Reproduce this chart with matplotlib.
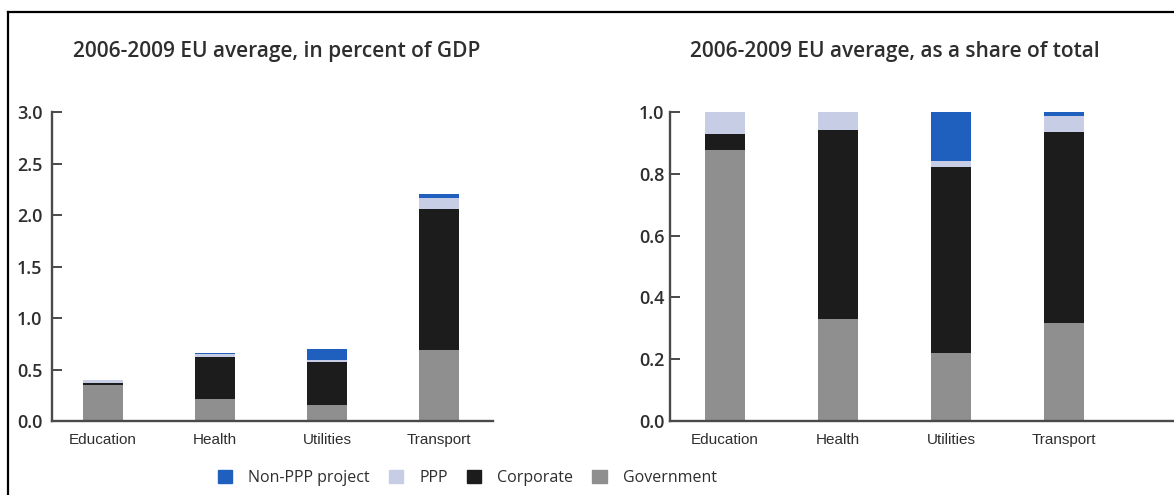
import matplotlib.pyplot as plt
from matplotlib.lines import Line2D
from matplotlib.patches import Patch

categories = ['Education', 'Health', 'Utilities', 'Transport']
series = ['Government', 'Corporate', 'PPP', 'Non-PPP project']
colors = {'Government': '#8f8f8f', 'Corporate': '#1c1c1c',
          'PPP': '#c6cde4', 'Non-PPP project': '#1f5fbd'}

# percent of GDP
gdp_government = [0.35, 0.21, 0.155, 0.69]
gdp_corporate = [0.022, 0.41, 0.42, 1.37]
gdp_ppp = [0.023, 0.035, 0.015, 0.11]
gdp_nonppp = [0.005, 0.005, 0.11, 0.03]

# share of total
share_government = [0.876, 0.329, 0.219, 0.316]
share_corporate = [0.054, 0.614, 0.603, 0.621]
share_ppp = [0.07, 0.057, 0.02, 0.052]
share_nonppp = [0.0, 0.0, 0.158, 0.011]

plt.rcParams['font.family'] = ['Open Sans', 'DejaVu Sans']
txt = '#2e2e2e'
axcol = '#4a4a4a'

fig = plt.figure(figsize=(11.74, 4.95), dpi=100)
ax1 = fig.add_axes([0.0443, 0.1495, 0.3756, 0.624])
ax2 = fig.add_axes([0.5707, 0.1495, 0.4293, 0.624])


def stack(ax, data, width):
    x = range(len(categories))
    bottom = [0] * len(categories)
    for name, vals in zip(series, data):
        ax.bar(x, vals, width, bottom=bottom, color=colors[name], linewidth=0)
        bottom = [b + v for b, v in zip(bottom, vals)]


stack(ax1, [gdp_government, gdp_corporate, gdp_ppp, gdp_nonppp], 0.357)
stack(ax2, [share_government, share_corporate, share_ppp, share_nonppp], 0.354)

ax1.set_xlim(-0.455, 3.482)
ax1.set_ylim(0, 3.0)
ax1.set_yticks([0, 0.5, 1.0, 1.5, 2.0, 2.5, 3.0])
ax1.set_yticklabels(['0.0', '0.5', '1.0', '1.5', '2.0', '2.5', '3.0'])
ax2.set_xlim(-0.487, 3.97)
ax2.set_ylim(0, 1.0)
ax2.set_yticks([0, 0.2, 0.4, 0.6, 0.8, 1.0])
ax2.set_yticklabels(['0.0', '0.2', '0.4', '0.6', '0.8', '1.0'])

for ax, pad in [(ax1, 7), (ax2, 4)]:
    ax.set_xticks(range(len(categories)))
    ax.set_xticklabels(categories, family=['Liberation Sans', 'DejaVu Sans'],
                       fontsize=11, color=txt)
    ax.tick_params(axis='x', length=0, pad=9)
    ax.tick_params(axis='y', direction='in', length=7, width=1.4, color=axcol,
                   labelsize=13, labelcolor=txt, pad=pad)
    for lab in ax.get_yticklabels():
        lab.set_fontweight('semibold')
    for s in ['top', 'right']:
        ax.spines[s].set_visible(False)
    for s in ['left', 'bottom']:
        ax.spines[s].set_color(axcol)
        ax.spines[s].set_linewidth(1.7)

fig.text(0.236, 0.895, '2006-2009 EU average, in percent of GDP',
         ha='center', va='center', fontsize=15, color=txt, fontweight='semibold')
fig.text(0.762, 0.895, '2006-2009 EU average, as a share of total',
         ha='center', va='center', fontsize=15, color=txt, fontweight='semibold')

handles = [Patch(color=colors[n]) for n in ['Non-PPP project', 'PPP', 'Corporate', 'Government']]
fig.legend(handles, ['Non-PPP project', 'PPP', 'Corporate', 'Government'],
           loc='center', bbox_to_anchor=(0.398, 0.034), ncol=4, frameon=False,
           fontsize=11.5, labelcolor=txt, handlelength=0.9, handleheight=0.9,
           columnspacing=1.2, handletextpad=1.0)

# frame lines on top and left
fig.add_artist(Line2D([0.0068, 1.0], [0.976, 0.976], color='black', lw=1.6))
fig.add_artist(Line2D([0.0068, 0.0068], [0.0, 0.976], color='black', lw=1.6))

fig.savefig('out.png', dpi=100)
